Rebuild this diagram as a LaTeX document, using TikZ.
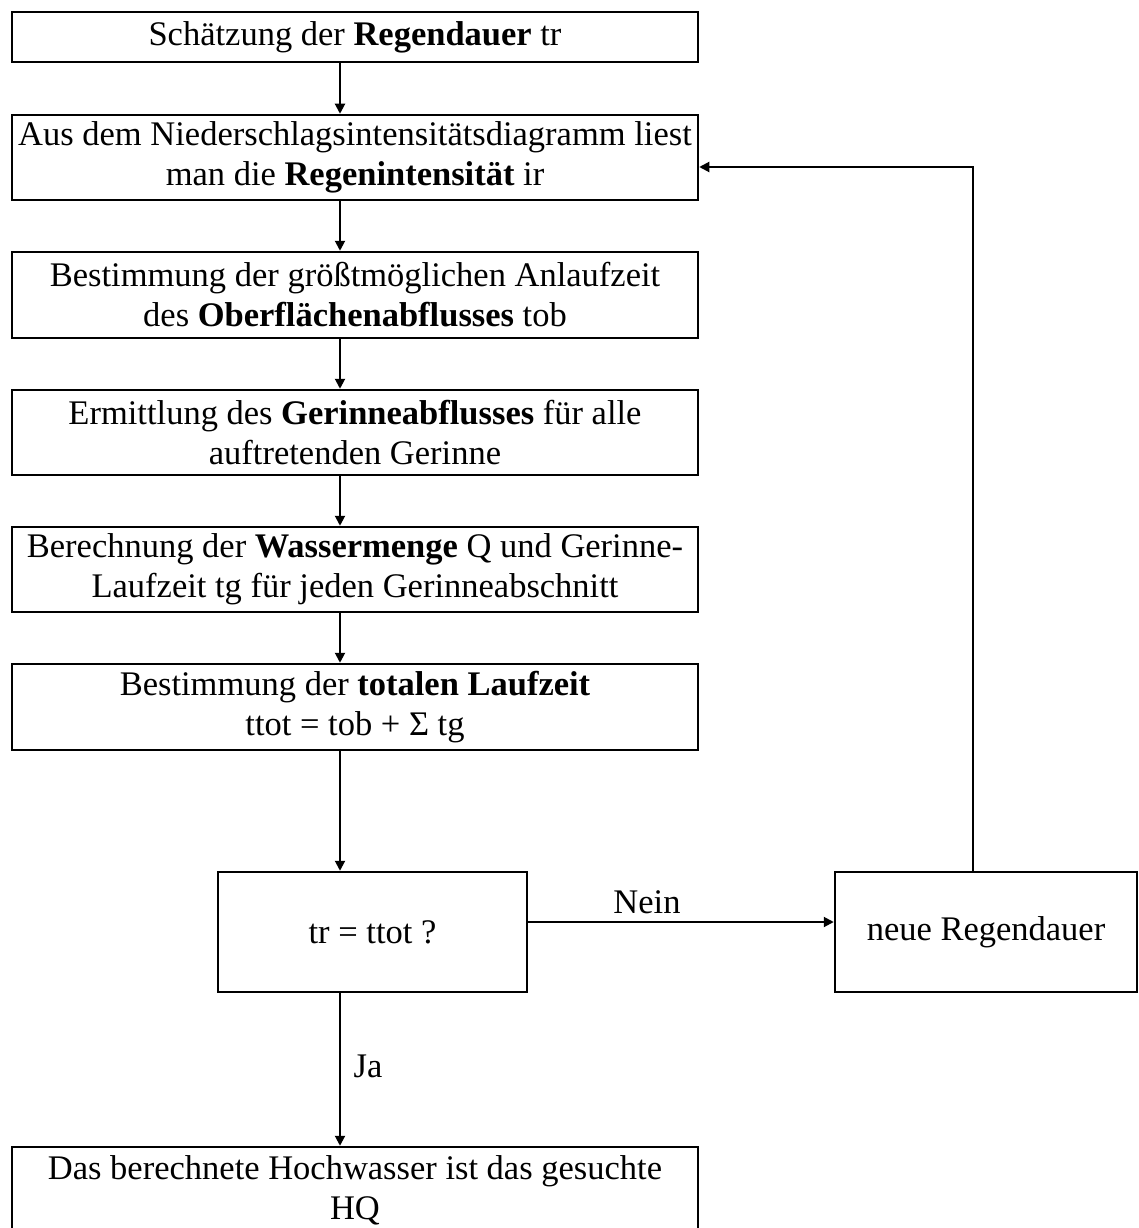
\documentclass[tikz,border=0pt]{standalone}
\usepackage{fontspec}
\setmainfont{Liberation Serif}
\usetikzlibrary{arrows.meta}
\begin{document}
\begin{tikzpicture}[x=1pt,y=-1pt,
  box/.style={draw,line width=2.5pt,minimum width=686pt,inner sep=0pt,align=center,font=\fontsize{34.5}{40}\selectfont},
  arr/.style={line width=2pt,-{Triangle[length=10pt,width=10pt]}},
  lbl/.style={font=\fontsize{34.5}{40}\selectfont,inner sep=0pt}]
\clip (0,0) rectangle (1138,1228);
\useasboundingbox (0,0) rectangle (1138,1228);
\coordinate (ax) at (340,0);
\node[box,minimum height=50pt] (b1) at (355,37) {Schätzung der \textbf{Regendauer} tr};
\node[box,minimum height=85pt] (b2) at (355,157.5) {Aus dem Niederschlagsintensitätsdiagramm liest\\man die \textbf{Regenintensität} ir};
\node[box,minimum height=86pt] (b3) at (355,295) {Bestimmung der größtmöglichen Anlaufzeit\\des \textbf{Oberflächenabflusses} tob};
\node[box,minimum height=85pt] (b4) at (355,432.5) {Ermittlung des \textbf{Gerinneabflusses} für alle\\auftretenden Gerinne};
\node[box,minimum height=85pt] (b5) at (355,569.5) {Berechnung der \textbf{Wassermenge} Q und Gerinne-\\Laufzeit tg für jeden Gerinneabschnitt};
\node[box,minimum height=86pt] (b6) at (355,707) {Bestimmung der \textbf{totalen Laufzeit}\\ttot = tob + Σ tg};
\node[box,minimum width=309pt,minimum height=120pt] (d) at (372.5,932) {tr = ttot ?};
\node[box,minimum width=302pt,minimum height=120pt] (n) at (986,932) {neue Regendauer};
\node[box,minimum height=86pt] (e) at (355,1190) {Das berechnete Hochwasser ist das gesuchte\\HQ};
\draw[arr] (b1.south -| ax) -- (b2.north -| ax);
\draw[arr] (b2.south -| ax) -- (b3.north -| ax);
\draw[arr] (b3.south -| ax) -- (b4.north -| ax);
\draw[arr] (b4.south -| ax) -- (b5.north -| ax);
\draw[arr] (b5.south -| ax) -- (b6.north -| ax);
\draw[arr] (b6.south -| ax) -- (d.north -| ax);
\draw[arr] (d.south -| ax) -- (e.north -| ax);
\draw[arr] (d.east |- 0,922) -- (n.west |- 0,922);
\coordinate (fb) at (973,167);
\draw[arr] (n.north -| fb) -- (fb) -- (b2.east |- fb);
\node[lbl] (nein) at (647,902) {Nein};
\node[lbl] (ja) at (368,1066) {Ja};
\end{tikzpicture}
\end{document}
